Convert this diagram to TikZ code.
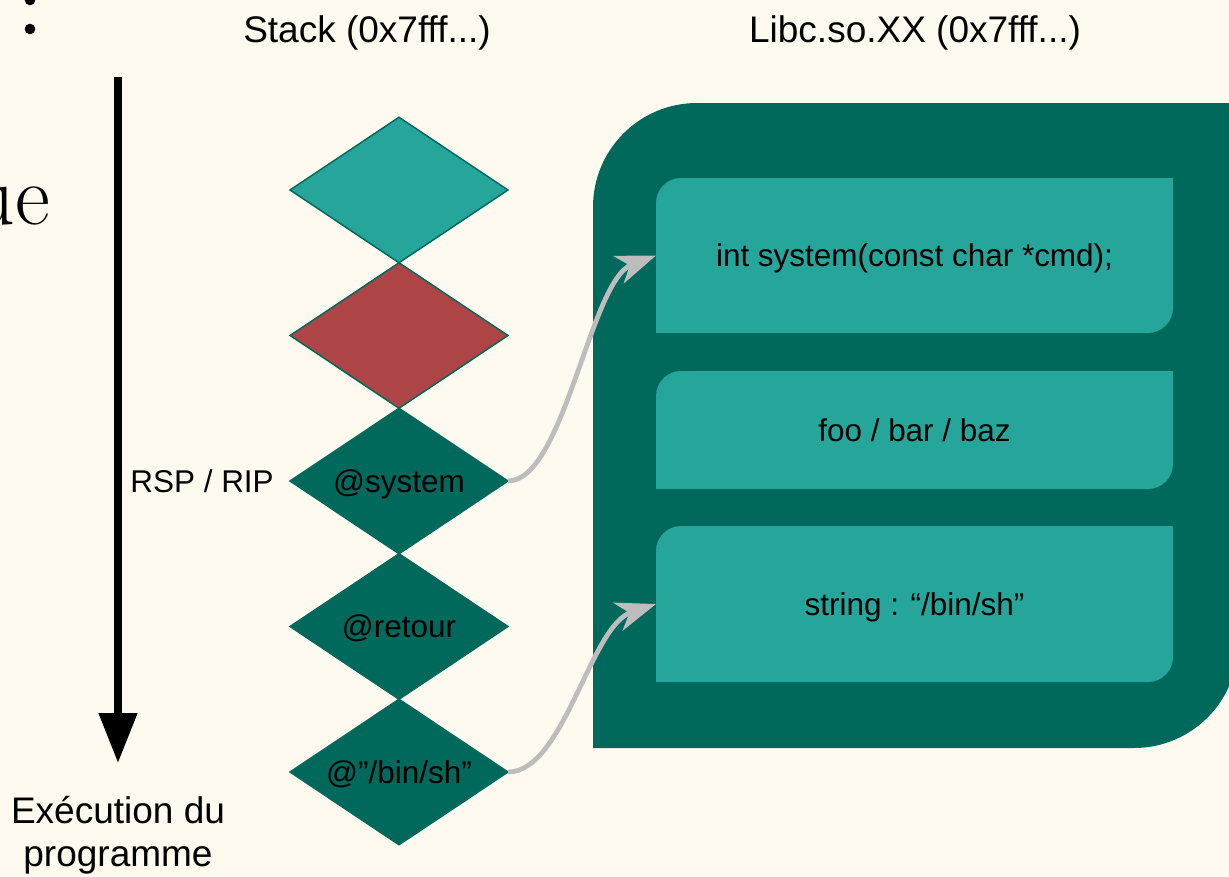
\documentclass[tikz,border=0pt]{standalone}
\usepackage{fontspec}
\newfontfamily\labelfont{Liberation Sans}
\usetikzlibrary{shapes.geometric,arrows.meta}

\definecolor{paper}{HTML}{FFFAEF}
\definecolor{teallight}{HTML}{26A69A}
\definecolor{tealdark}{HTML}{00695C}
\definecolor{slotred}{HTML}{AD4446}
\definecolor{linkgray}{HTML}{BDBDBD}

\pgfdeclarelayer{paperlayer}
\pgfdeclarelayer{bg}
\pgfsetlayers{paperlayer,bg,main}

\begin{document}
\begin{tikzpicture}[x=0.75pt,y=-0.75pt,
  bodytext/.style={text height=16.9pt, text depth=0pt,
    font=\labelfont\fontsize{23.6}{28}\selectfont},
  slot/.style={shape=diamond, aspect=1.5, draw=tealdark, line width=1.1pt,
    minimum width=163.5pt, minimum height=109.1pt,
    inner sep=0pt, outer sep=0pt, bodytext},
  cell/.style={rectangle, inner sep=0pt, outer sep=0pt,
    minimum width=387.75pt, bodytext},
  title/.style={inner sep=0pt, text height=19.9pt, text depth=0pt,
    font=\labelfont\fontsize{27.75}{32}\selectfont},
  small/.style={inner sep=0pt, bodytext},
  link/.style={draw=linkgray, line width=3.6pt,
    -{Stealth[length=30pt,width=22pt,inset=9pt,fill=linkgray]}},
]
\useasboundingbox (0,0) rectangle (1229,876);
\clip (0,0) rectangle (1229,876);
\begin{pgfonlayer}{paperlayer}
  \fill[paper] (0,0) rectangle (1229,876);
\end{pgfonlayer}

% leftover of the slide text
\fill (30,0) circle[radius=5.3];
\fill (30,29) circle[radius=5.3];
\node[anchor=base east, inner sep=0pt, font=\fontsize{64}{64}\selectfont] (word) at (50,224) {ue};

% column titles
\node[title] (stacktitle) at (367,29) {Stack (0x7fff...)};
\node[title] (libctitle) at (915,29) {Libc.so.XX (0x7fff...)};

% execution direction
\coordinate (flowtop) at (118,77);
\coordinate (flowend) at (118,763);
\draw[line width=6pt, -{Triangle[length=37.5pt,width=27.75pt]}] (flowtop) -- (flowend);
\node[inner sep=0pt, align=center, font=\labelfont\fontsize{27.75}{32}\selectfont] (exec) at (118,835) {Exécution du\\programme};

% stack slots
\node[slot, fill=teallight] (s1) at (399,190) {};
\node[slot, fill=slotred] (s2) at (399,335.5) {};
\node[slot, fill=tealdark] (sys) at (399,481) {@system};
\node[slot, fill=tealdark] (ret) at (399,626.5) {@retour};
\node[slot, fill=tealdark] (binsh) at (399,772) {@”/bin/sh”};
\node[small, anchor=east] (rsp) at ([xshift=-12pt]sys.west) {RSP / RIP};

% libc mapping and its contents
\node[rectangle, inner sep=0pt, outer sep=0pt, minimum width=483.75pt, minimum height=483.75pt] (libc) at (915.5,425.5) {};
\node[cell, minimum height=116.25pt] (b1) at (914.5,255.5) {int system(const char *cmd);};
\node[cell, minimum height=88.5pt] (b2) at (914.5,430) {foo / bar / baz};
\node[cell, minimum height=117pt] (b3) at (914.5,604) {string : “/bin/sh”};

\begin{pgfonlayer}{bg}
  \fill[tealdark] (libc.west) [rounded corners=78pt] -- (libc.north west) -- (libc.north)
    [sharp corners] -- (libc.north east) -- (libc.east)
    [rounded corners=78pt] -- (libc.south east) -- (libc.south)
    [sharp corners] -- (libc.south west) -- cycle;
  \foreach \b in {b1,b2,b3}{
    \fill[teallight] (\b.west) [rounded corners=18.75pt] -- (\b.north west) -- (\b.north)
      [sharp corners] -- (\b.north east) -- (\b.east)
      [rounded corners=18.75pt] -- (\b.south east) -- (\b.south)
      [sharp corners] -- (\b.south west) -- cycle;
  }
\end{pgfonlayer}

% pointers from the stack into libc
\draw[link] (sys.east) .. controls +(56,0) and +(-66,25) .. (b1.west);
\draw[link] (binsh.east) .. controls +(56,0) and +(-66,22) .. (b3.west);
\end{tikzpicture}
\end{document}
